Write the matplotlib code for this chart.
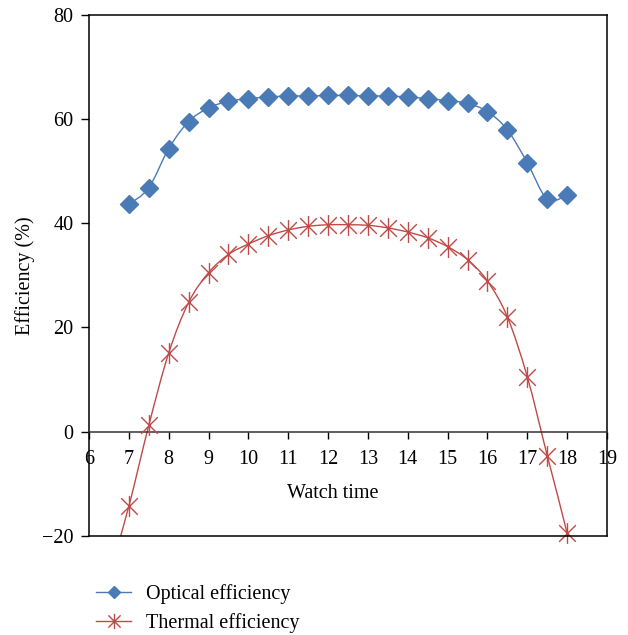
import numpy as np
import matplotlib
matplotlib.use("Agg")
import matplotlib.pyplot as plt
from matplotlib.path import Path
from matplotlib.patches import PathPatch
from matplotlib.lines import Line2D

# Watch time (hours) and efficiencies (%)
hours = [7, 7.5, 8, 8.5, 9, 9.5, 10, 10.5, 11, 11.5, 12, 12.5, 13,
         13.5, 14, 14.5, 15, 15.5, 16, 16.5, 17, 17.5, 18]
optical = [43.6, 46.8, 54.3, 59.5, 62.1, 63.4, 63.9, 64.2, 64.4, 64.4,
           64.5, 64.5, 64.4, 64.4, 64.2, 63.9, 63.5, 63.0, 61.4, 57.9,
           51.6, 44.6, 45.4]
# thermal series also has readings just outside the plotted range
thermal_hours = [6.5] + hours + [18.5]
thermal = [-28.0, -14.3, 1.2, 15.1, 24.8, 30.5, 34.0, 36.0, 37.6, 38.7,
           39.4, 39.7, 39.7, 39.6, 39.1, 38.3, 37.2, 35.5, 33.0, 28.9,
           22.0, 10.5, -4.6, -19.5, -36.0]

x_ticks = list(range(6, 20))
y_ticks = [-20, 0, 20, 40, 60, 80]

BLUE = "#4A7BB7"
RED = "#BE4B48"

plt.rcParams["font.family"] = ["Liberation Serif", "DejaVu Serif"]
FS = 14.5


def smooth_path(xs, ys):
    """Bezier path through the points (Catmull-Rom style smoothing)."""
    p = np.column_stack([xs, ys]).astype(float)
    n = len(p)
    verts = [p[0]]
    codes = [Path.MOVETO]
    for i in range(n - 1):
        p0 = p[i - 1] if i > 0 else p[i]
        p1, p2 = p[i], p[i + 1]
        p3 = p[i + 2] if i + 2 < n else p[i + 1]
        c1 = p1 + (p2 - p0) / 6.0
        c2 = p2 - (p3 - p1) / 6.0
        verts += [c1, c2, p2]
        codes += [Path.CURVE4] * 3
    return Path(verts, codes)


star = Path([(-1, -1), (1, 1), (-1, 1), (1, -1), (0, -1.25), (0, 1.25)],
            [Path.MOVETO, Path.LINETO, Path.MOVETO, Path.LINETO,
             Path.MOVETO, Path.LINETO])

fig = plt.figure(figsize=(6.28, 6.35), dpi=100)
ax = fig.add_axes([0.1417, 0.1559, 0.8249, 0.8210])

# smooth connecting lines
ax.add_patch(PathPatch(smooth_path(hours, optical), facecolor="none",
                       edgecolor=BLUE, lw=1.0, zorder=2))
ax.add_patch(PathPatch(smooth_path(thermal_hours, thermal), facecolor="none",
                       edgecolor=RED, lw=1.0, zorder=2))

# markers
ax.plot(hours, optical, ls="none", marker="D", ms=9.5, color=BLUE,
        mec=BLUE, zorder=3, clip_on=False)
ax.plot(thermal_hours[1:-1], thermal[1:-1], ls="none", marker=star, ms=15,
        mew=1.0, color=RED, zorder=3, clip_on=False)

ax.set_xlim(6, 19)
ax.set_ylim(-20, 80)
ax.set_xticks(x_ticks)
ax.set_yticks(y_ticks)
ax.set_yticklabels(["\u221220" if v < 0 else str(v) for v in y_ticks])

for s in ax.spines.values():
    s.set_linewidth(1.1)
    s.set_color("black")
ax.spines["bottom"].set_position(("data", 0))
ax.spines["bottom"].set_color("#333333")
# frame line at the bottom of the plotting area
ax.plot([0, 1], [0, 0], transform=ax.transAxes, color="black", lw=1.1,
        clip_on=False, zorder=4)

ax.tick_params(axis="x", direction="out", length=5, width=1.0, pad=8.5,
               labelsize=FS)
ax.tick_params(axis="y", direction="out", length=6, width=1.0, pad=5,
               labelsize=FS)

ax.set_xlabel("Watch time", fontsize=FS)
ax.xaxis.set_label_coords(0.471, 0.10)
ax.set_ylabel("Efficiency (%)", fontsize=FS, labelpad=5)

handles = [
    Line2D([], [], color=BLUE, lw=1.0, marker="D", ms=6.5, mec=BLUE),
    Line2D([], [], color=RED, lw=1.0, marker=star, ms=11, mew=1.0),
]
fig.legend(handles, ["Optical efficiency", "Thermal efficiency"],
           loc="upper left", bbox_to_anchor=(0.14, 0.093), frameon=False,
           fontsize=FS, handlelength=1.75, handletextpad=0.75,
           labelspacing=0.45, borderaxespad=0)

fig.savefig("out.png", dpi=100)
